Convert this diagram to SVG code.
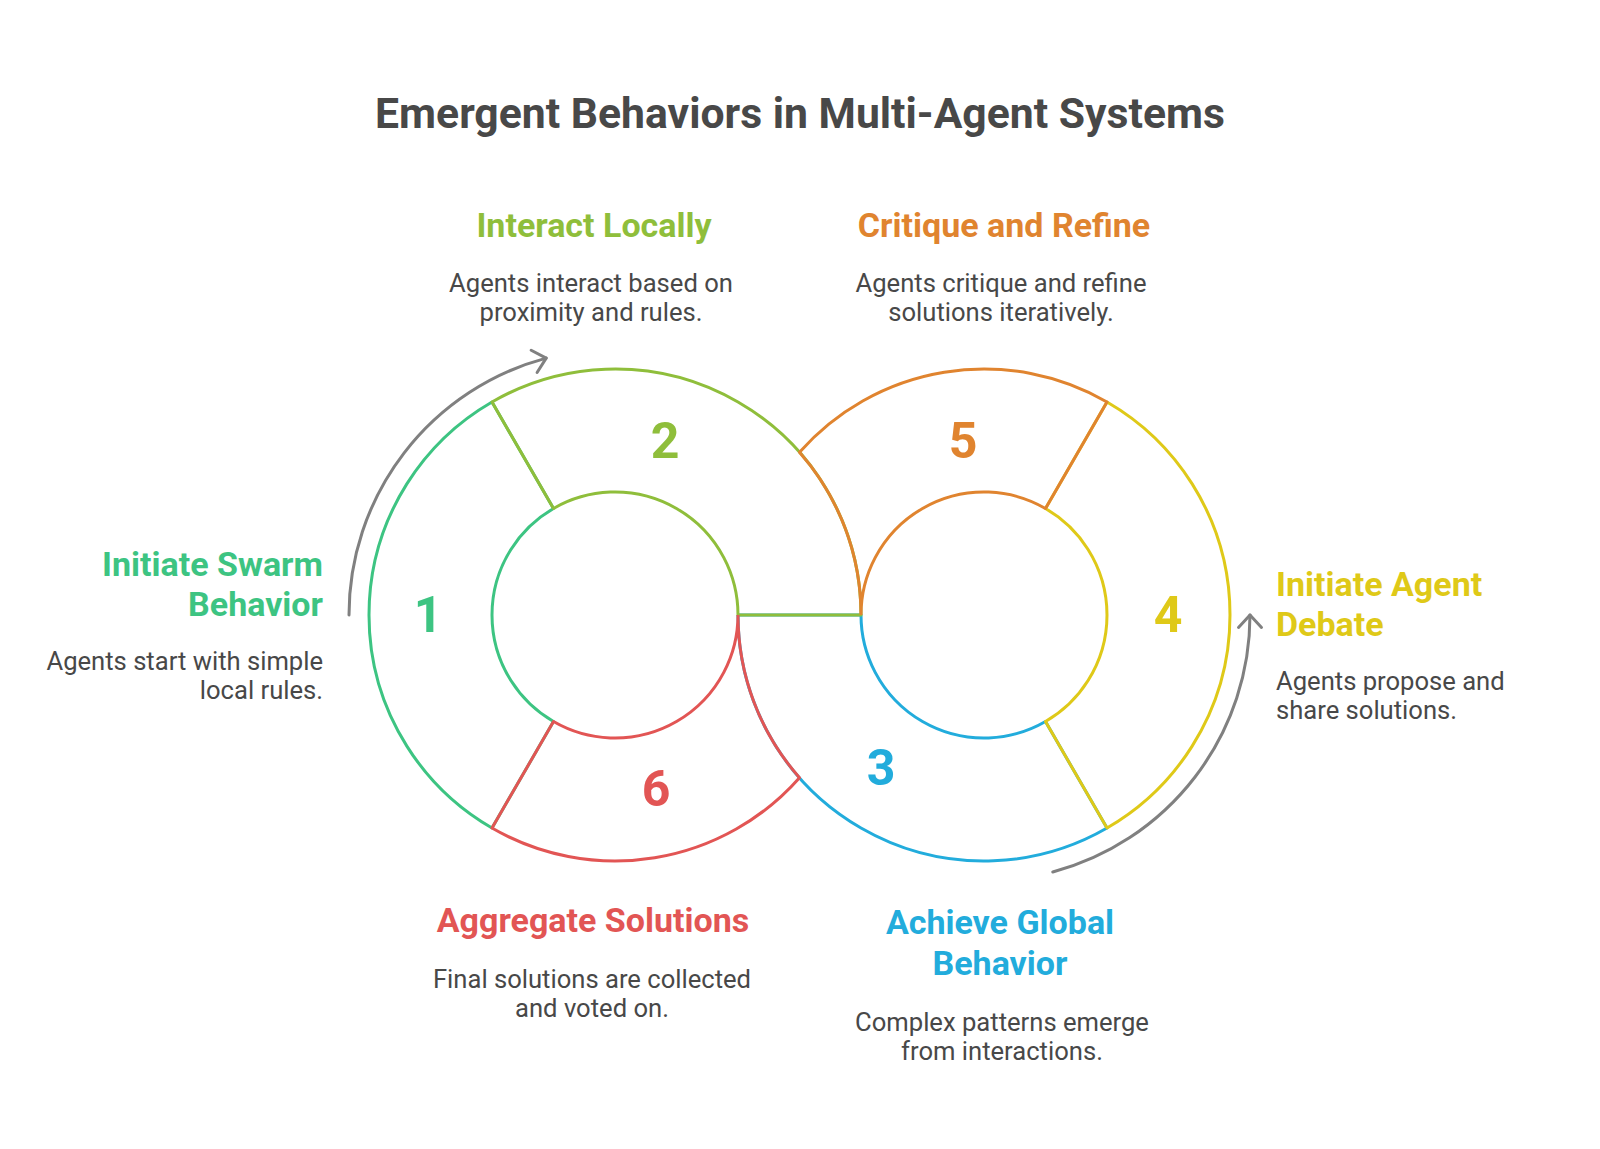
<svg xmlns="http://www.w3.org/2000/svg" width="1600" height="1149" viewBox="0 0 1600 1149">
<style>
.title{font-family:Roboto,"Liberation Sans",sans-serif;font-weight:700;font-size:42.7px;fill:#484848}
.head{font-family:Roboto,"Liberation Sans",sans-serif;font-weight:700;font-size:34px}
.desc{font-family:Roboto,"Liberation Sans",sans-serif;font-weight:400;font-size:25.6px;fill:#484848}
.num{font-family:Roboto,"Liberation Sans",sans-serif;font-weight:700;font-size:50px;text-anchor:middle}
.seg{fill:none;stroke-width:3;stroke-linejoin:round}
.arrow{fill:none;stroke:#808080;stroke-width:3;stroke-linecap:round}
.c1{stroke:#3DC482}.t1{fill:#3DC482}
.c2{stroke:#8FBE3B}.t2{fill:#8FBE3B}
.c3{stroke:#22ACDC}.t3{fill:#22ACDC}
.c4{stroke:#DFC918}.t4{fill:#DFC918}
.c5{stroke:#E0842F}.t5{fill:#E0842F}
.c6{stroke:#E25554}.t6{fill:#E25554}
</style>
<defs>
<marker id="chev" markerUnits="userSpaceOnUse" markerWidth="40" markerHeight="40" viewBox="-20 -20 40 40" refX="0" refY="0" orient="auto">
<path d="M -12.5 -11.5 L 0 0 L -12.5 11.5" fill="none" stroke="#808080" stroke-width="3" stroke-linecap="round" stroke-linejoin="round"/>
</marker>
</defs>
<rect width="1600" height="1149" fill="#ffffff"/>
<text class="title" x="800" y="128" text-anchor="middle">Emergent Behaviors in Multi-Agent Systems</text>

<g id="connectors">
<path class="arrow" d="M 349 615 A 266 266 0 0 1 546.2 358.1" marker-end="url(#chev)"/>
<path class="arrow" d="M 1052.8 872 A 266 266 0 0 0 1250 615" marker-end="url(#chev)"/>
</g>

<g id="node1">
<path class="seg c1" d="M 492 401.96 A 246 246 0 0 0 492 828.04 L 553.5 721.52 A 123 123 0 0 1 553.5 508.48 Z"/>
<text class="num t1" x="428" y="632">1</text>
<text class="head t1" text-anchor="end"><tspan x="323" y="576">Initiate Swarm</tspan><tspan x="323" y="616">Behavior</tspan></text>
<text class="desc" text-anchor="end"><tspan x="323" y="670">Agents start with simple</tspan><tspan x="323" y="699">local rules.</tspan></text>
</g>

<g id="node3">
<path class="seg c3" d="M 738 615 L 861 615 A 123 123 0 0 0 1045.5 721.52 L 1107 828.04 A 246 246 0 0 1 738 615"/>
<text class="num t3" x="881" y="785">3</text>
<text class="head t3" text-anchor="middle"><tspan x="1000" y="934">Achieve Global</tspan><tspan x="1000" y="975">Behavior</tspan></text>
<text class="desc" text-anchor="middle"><tspan x="1002" y="1031">Complex patterns emerge</tspan><tspan x="1002" y="1060">from interactions.</tspan></text>
</g>

<g id="node4">
<path class="seg c4" d="M 1045.5 508.48 L 1107 401.96 A 246 246 0 0 1 1107 828.04 L 1045.5 721.52 A 123 123 0 0 0 1045.5 508.48 Z"/>
<text class="num t4" x="1168" y="632">4</text>
<text class="head t4"><tspan x="1276" y="596">Initiate Agent</tspan><tspan x="1276" y="636">Debate</tspan></text>
<text class="desc"><tspan x="1276" y="690">Agents propose and</tspan><tspan x="1276" y="719">share solutions.</tspan></text>
</g>

<g id="node2">
<path class="seg c2" d="M 553.5 508.48 L 492 401.96 A 246 246 0 0 1 861 615 L 738 615 A 123 123 0 0 0 553.5 508.48 Z"/>
<text class="num t2" x="665" y="458">2</text>
<text class="head t2" text-anchor="middle" x="594" y="237">Interact Locally</text>
<text class="desc" text-anchor="middle"><tspan x="591" y="292">Agents interact based on</tspan><tspan x="591" y="321">proximity and rules.</tspan></text>
</g>

<g id="node5">
<path class="seg c5" d="M 861 615 A 246 246 0 0 0 799.5 452.3 A 246 246 0 0 1 1107 401.96 L 1045.5 508.48 A 123 123 0 0 0 861 615"/>
<text class="num t5" x="963" y="458">5</text>
<text class="head t5" text-anchor="middle" x="1004" y="237">Critique and Refine</text>
<text class="desc" text-anchor="middle"><tspan x="1001" y="292">Agents critique and refine</tspan><tspan x="1001" y="321">solutions iteratively.</tspan></text>
</g>

<g id="node6">
<path class="seg c6" d="M 738 615 A 123 123 0 0 1 553.5 721.52 L 492 828.04 A 246 246 0 0 0 799.5 777.7 A 246 246 0 0 1 738 615"/>
<text class="num t6" x="656" y="806">6</text>
<text class="head t6" text-anchor="middle" x="593" y="932">Aggregate Solutions</text>
<text class="desc" text-anchor="middle"><tspan x="592" y="988">Final solutions are collected</tspan><tspan x="592" y="1017">and voted on.</tspan></text>
</g>
</svg>
